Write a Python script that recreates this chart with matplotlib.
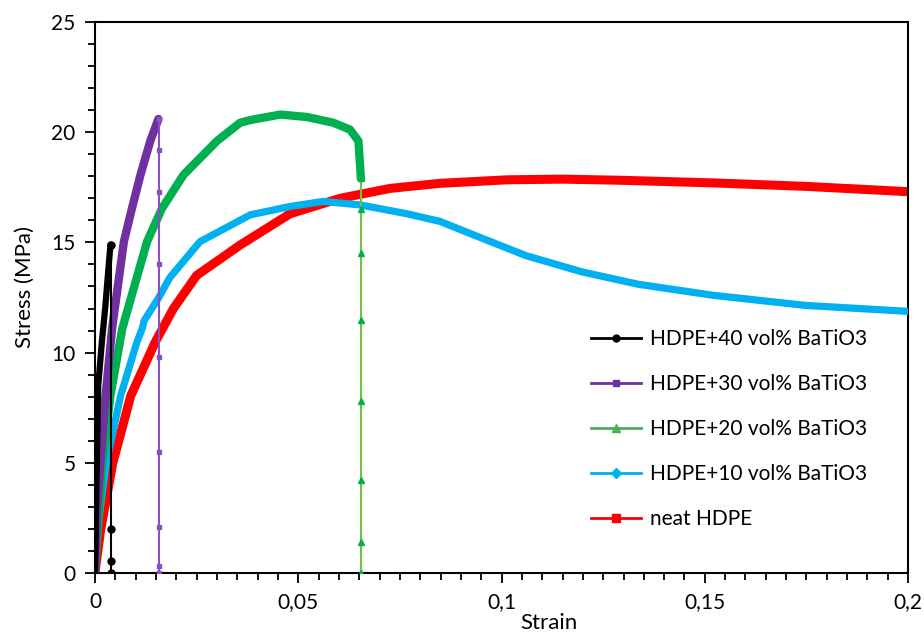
import matplotlib.pyplot as plt
from matplotlib.lines import Line2D
import numpy as np

plt.rcParams['font.family'] = ['Lato', 'DejaVu Sans']

# stress-strain curves (strain [-], stress [MPa])
strain_40 = [0, 0.0004, 0.0008, 0.0017, 0.0025, 0.0033, 0.0038]
stress_40 = [0, 4.5, 8.5, 10.5, 12.0, 13.8, 14.9]
drop_40_strain = 0.0039
drop_40_stress = [14.9, 2.0, 0.55, 0.0]

strain_30 = [0, 0.0005, 0.0017, 0.0026, 0.0042, 0.0071, 0.0091, 0.0112, 0.0136, 0.0156]
stress_30 = [0, 2.87, 5.9, 8.04, 11.08, 15.03, 16.55, 18.07, 19.6, 20.6]
drop_30_strain = 0.0157
drop_30_stress = [20.6, 19.2, 17.3, 14.0, 9.8, 5.5, 2.1, 0.3, 0.0]

strain_20 = [0, 0.0018, 0.0038, 0.0067, 0.0128, 0.0165, 0.0218, 0.03, 0.0357,
             0.0382, 0.0456, 0.0521, 0.0586, 0.0627, 0.0648, 0.0652, 0.0654]
stress_20 = [0, 5.0, 8.04, 11.08, 15.03, 16.55, 18.07, 19.6, 20.43,
             20.55, 20.8, 20.69, 20.43, 20.12, 19.6, 18.5, 17.9]
drop_20_strain = 0.0655
drop_20_stress = [17.9, 16.5, 14.5, 11.5, 7.8, 4.2, 1.4, 0.0]

strain_10 = [0, 0.0006, 0.0028, 0.0063, 0.0103, 0.0116, 0.0121, 0.0157, 0.0184, 0.0258,
             0.0382, 0.048, 0.0562, 0.0652, 0.0767, 0.0849, 0.0923, 0.106, 0.1198, 0.1336,
             0.152, 0.1748, 0.2]
stress_10 = [0, 1.96, 5.0, 8.04, 10.47, 11.08, 11.45, 12.5, 13.4, 15.03,
             16.25, 16.63, 16.86, 16.7, 16.3, 15.95, 15.4, 14.4, 13.66, 13.1,
             12.6, 12.14, 11.87]

strain_0 = [0, 0.0003, 0.0014, 0.0044, 0.0088, 0.0148, 0.0193, 0.025, 0.0357,
            0.048, 0.0603, 0.0726, 0.0849, 0.1015, 0.115, 0.129, 0.152, 0.175, 0.2]
stress_0 = [0, 0.44, 1.96, 5.0, 8.04, 10.47, 12.0, 13.5, 14.88,
            16.3, 17.0, 17.45, 17.68, 17.84, 17.87, 17.82, 17.7, 17.54, 17.3]

labels = ['HDPE+40 vol% BaTiO3', 'HDPE+30 vol% BaTiO3', 'HDPE+20 vol% BaTiO3',
          'HDPE+10 vol% BaTiO3', 'neat HDPE']
colors = ['#000000', '#7030A0', '#00B050', '#00B0F0', '#FF0000']
legend_colors = ['#000000', '#7030A0', '#4CAF50', '#00B0F0', '#FF0000']
markers = ['o', 's', '^', 'D', 's']

x_ticks = [0, 0.05, 0.1, 0.15, 0.2]
x_ticklabels = ['0', '0,05', '0,1', '0,15', '0,2']
y_ticks = [0, 5, 10, 15, 20, 25]

fig = plt.figure(figsize=(9.24, 6.32), dpi=100)
ax = fig.add_axes([0.1028, 0.0934, 0.88, 0.8718])

# thick curves (dense markers in the original)
kw = dict(solid_capstyle='round', solid_joinstyle='round')
ax.plot(strain_0, stress_0, color=colors[4], lw=6.5, zorder=2, **kw)
ax.plot(strain_10, stress_10, color=colors[3], lw=5.2, zorder=3, **kw)
ax.plot(strain_20, stress_20, color=colors[2], lw=6, zorder=4, **kw)
ax.plot(strain_30, stress_30, color=colors[1], lw=6, zorder=5, **kw)
ax.plot(strain_40, stress_40, color=colors[0], lw=4.5, zorder=6, **kw)

# failure drops (thin lines with markers)
ax.plot([drop_40_strain] * len(drop_40_stress), drop_40_stress, color='#000000', lw=1.5,
        marker='o', ms=5, zorder=6)
ax.plot([drop_30_strain] * len(drop_30_stress), drop_30_stress, color='#8A4FC0', lw=1.5,
        marker='s', ms=3.5, zorder=5)
ax.plot([drop_20_strain] * len(drop_20_stress), drop_20_stress, color='#70C040', lw=1.5,
        marker='^', ms=5, markerfacecolor=colors[2], markeredgecolor=colors[2], zorder=4)

ax.set_xlim(0, 0.2)
ax.set_ylim(0, 25)
ax.set_xticks(x_ticks)
ax.set_xticklabels(x_ticklabels)
ax.set_yticks(y_ticks)
ax.set_xticks(np.arange(0, 0.2001, 0.005), minor=True)
ax.set_yticks(np.arange(0, 25.01, 1), minor=True)
ax.tick_params(which='major', direction='out', length=7, width=1.3, labelsize=15, pad=7)
ax.tick_params(which='minor', direction='out', length=5, width=1.3)
for s in ax.spines.values():
    s.set_linewidth(1.5)
    s.set_color('black')

ax.set_xlabel('Strain', fontsize=16)
ax.xaxis.set_label_coords(0.558, -0.072)
ax.set_ylabel('Stress (MPa)', fontsize=16)
ax.yaxis.set_label_coords(-0.074, 0.519)

handles = [Line2D([], [], color=c, marker=m, ms=ms, lw=2)
           for c, m, ms in zip(legend_colors, markers, [5, 4, 6, 5, 6])]
ax.legend(handles, labels, loc='lower right', bbox_to_anchor=(0.973, 0.046), frameon=False,
          fontsize=15, handlelength=2.4, handletextpad=0.43, labelspacing=1.2)

fig.savefig('out.png', dpi=100)
